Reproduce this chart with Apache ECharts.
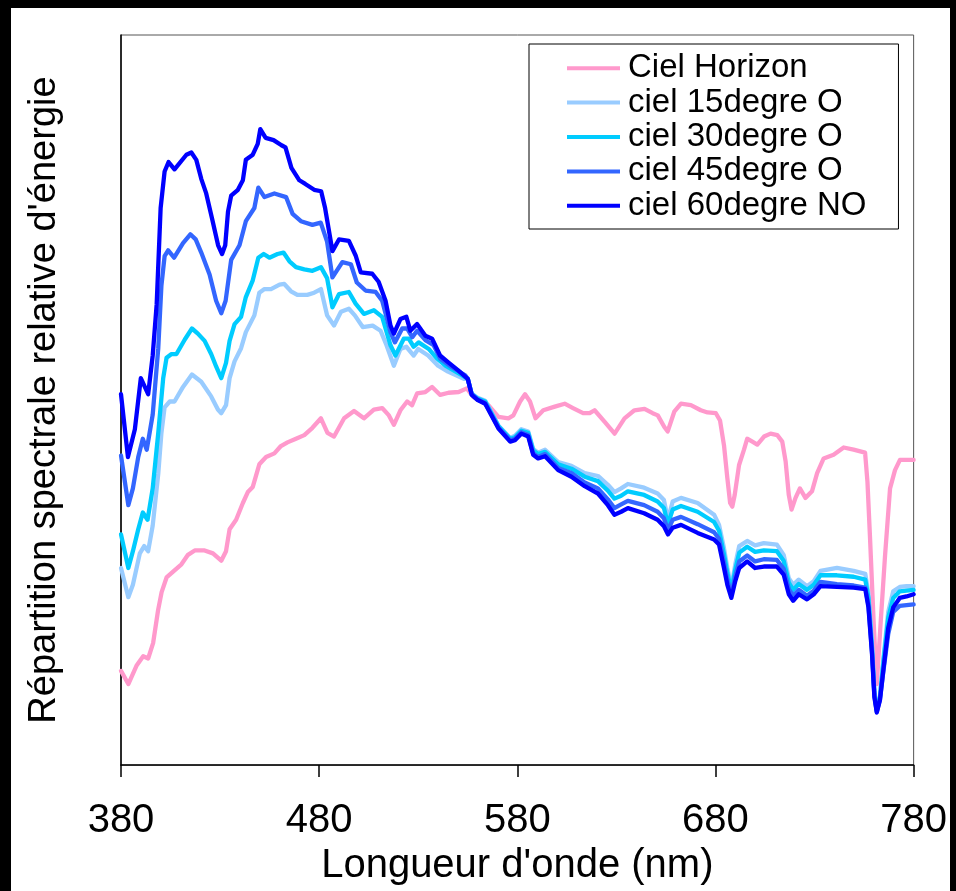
<!DOCTYPE html>
<html>
<head>
<meta charset="utf-8">
<script src="https://cdn.jsdelivr.net/npm/echarts@6/dist/echarts.min.js"></script>
<style>
  html, body { margin: 0; padding: 0; background: #000; width: 956px; height: 891px; overflow: hidden; }
  #chart { position: absolute; left: 11px; top: 8px; width: 939px; height: 883px; background: #fff; }
</style>
</head>
<body>
<div id="chart"></div>
<script>
// Wavelength axis (nm)
const xTicks = [380, 480, 580, 680, 780];

// Relative spectral energy distribution, [wavelength nm, relative value]
const cielHorizon = [
  [380,12.9],[383.7,11.1],[387.8,13.6],[391.2,14.9],[393.7,14.6],[396.2,16.7],[398.7,21.2],[400.5,23.7],
  [403,25.7],[406.3,26.5],[410.5,27.5],[413.8,28.8],[417.2,29.4],[422.2,29.4],[426.4,29.0],[430.6,28.0],
  [433,29.3],[434.8,32.3],[438.1,33.6],[441.5,35.9],[444,37.4],[446.5,38.1],[449.8,41.2],[453.2,42.2],
  [457.4,42.7],[460.7,43.7],[464,44.2],[468.3,44.7],[472.5,45.2],[476.6,46.2],[480.9,47.5],[484.2,45.5],
  [487.5,45.0],[492.6,47.5],[497.6,48.5],[502.6,47.5],[507.6,48.7],[511.8,48.9],[515.2,47.9],[517.7,46.6],
  [521,48.6],[524.4,49.8],[526.9,49.3],[529.4,50.9],[533.6,51.1],[537,51.8],[541.1,50.7],[545.3,51.0],
  [550.4,51.1],[554.5,51.6],[557.9,50.4],[562,49.8],[565.4,49.3],[570.5,47.7],[575.5,47.5],[578,47.9],
  [581.4,49.8],[583.9,50.8],[586.4,49.8],[589.2,47.5],[593.1,48.6],[598.9,49.1],[603.9,49.5],[608.1,48.9],
  [613.2,48.2],[616.5,48.2],[619,48.6],[624.1,47.0],[629.1,45.4],[634.1,47.5],[639.1,48.6],[644.2,48.8],
  [648.3,48.2],[650.9,47.9],[654.2,46.3],[655.9,45.7],[659.2,48.4],[662.6,49.5],[667.6,49.3],[672.6,48.6],
  [676,48.3],[680.2,48.2],[682.3,47.2],[684.3,43.8],[686,39.3],[687.4,35.9],[688.5,35.4],[689.7,37.0],
  [691.9,41.1],[694.4,43.2],[696,44.7],[698.6,44.3],[701.1,43.9],[704.5,45.0],[707.8,45.4],[711.2,45.2],
  [713.7,44.3],[715.4,41.6],[717,37.0],[718.4,35.0],[720.4,36.6],[722.6,37.9],[725.4,36.6],[728.7,37.5],
  [731.3,40.0],[734.6,42.0],[739.6,42.5],[744.7,43.5],[749.7,43.2],[755.5,42.8],[756.7,38.8],[758,31.1],
  [759.8,19.7],[761.4,11.1],[763.4,19.7],[765.6,28.8],[768.1,37.9],[770.6,40.4],[773.1,41.8],[780,41.8]
];

const ciel15 = [
  [380,27.0],[383.7,23.0],[386,24.7],[389.5,29.0],[391.7,30.0],[393.7,29.3],[396,32.8],[398.8,39.9],
  [400.4,45.5],[402,49.0],[404.6,49.8],[407,49.8],[411.3,51.8],[415.8,53.5],[420.5,52.5],[425.5,50.5],
  [428.9,48.7],[430.6,48.2],[433,49.3],[434.8,53.0],[437.3,55.3],[440.6,57.1],[443,59.3],[447.3,61.6],
  [449.8,64.7],[452.4,65.2],[455.7,65.2],[460,65.8],[462.4,65.9],[465.8,64.9],[469,64.4],[474,64.4],
  [477.5,64.7],[480.9,65.2],[484,61.6],[487.5,60.2],[491,62.1],[495,62.5],[498,61.6],[502,60.0],
  [507,60.2],[511,59.5],[514,57.5],[517.7,54.7],[521,57.0],[524,57.3],[527.7,56.1],[530,57.0],
  [535,56.1],[540,54.7],[545,53.9],[553,52.9],[555,52.9],[557,50.9],[560,50.3],[563.8,49.9],
  [570.5,46.5],[576.4,44.8],[578.8,45.1],[582,46.0],[585.5,45.7],[588,43.3],[590.5,42.8],[594,43.2],
  [600.6,41.5],[607.3,41.0],[614,40.0],[620.7,39.6],[625.7,38.4],[629,37.4],[632.4,37.9],[635.8,38.5],
  [644,38.0],[650.8,37.2],[654,36.3],[656,33.6],[658.4,36.1],[662.6,36.6],[671,35.9],[679.3,34.3],
  [681.8,32.9],[684.3,29.7],[686,27.0],[688,24.3],[690,27.5],[692,30.0],[696,30.7],[700,30.1],
  [704.4,30.4],[711,30.2],[714.4,28.8],[717,25.6],[719.2,24.7],[722,25.4],[726.2,24.5],[729.6,25.2],
  [733,26.6],[741.3,27.0],[749.7,26.6],[755.6,26.2],[757.2,23.5],[759,16.5],[760.2,10.0],[761.4,7.6],
  [763,9.5],[764.7,14.5],[767.2,21.0],[769.7,23.8],[773,24.4],[776.4,24.5],[780,24.5]
];

const ciel30 = [
  [380,31.6],[383.7,27.0],[386,29.3],[388.7,32.3],[391,34.6],[393.4,33.6],[396,37.9],[398.8,45.5],
  [401.3,53.0],[403,55.8],[405.5,56.3],[408,56.3],[412.2,58.3],[415.8,59.8],[418.8,59.1],[422.2,58.1],
  [425.5,56.3],[428,54.6],[430.6,53.0],[433,55.1],[434.8,58.1],[437.3,60.4],[440.6,61.4],[443,64.1],
  [446.5,66.4],[449.3,69.5],[452,70.0],[454.9,69.5],[459,70.0],[462,70.2],[465,69.0],[468.3,68.2],
  [472.5,67.9],[476.6,67.7],[480.9,68.2],[484,66.7],[486.7,62.7],[490,64.5],[495,64.8],[498.4,63.2],
  [502.6,61.8],[507.6,62.3],[511.8,61.4],[516,57.5],[518.5,56.1],[522.7,58.4],[525.2,58.4],[527.7,57.3],
  [530.2,57.9],[535.3,57.0],[539.4,55.7],[543.7,54.7],[552,53.4],[555,52.9],[557,50.8],[560,50.2],
  [563.8,49.8],[570.5,46.4],[576.4,44.7],[578.8,44.9],[582,45.8],[585.5,45.5],[588,43.1],[590.5,42.6],
  [594,42.9],[600.6,41.2],[607.3,40.6],[614,39.5],[620.7,38.9],[625.7,37.6],[629,36.5],[632.4,36.9],
  [635.8,37.5],[644,37.0],[650.8,36.1],[654,35.2],[656,33.0],[658.4,35.0],[662.6,35.5],[671,34.7],
  [679.3,33.3],[681.8,32.1],[684.3,28.9],[686,26.3],[688,23.9],[690,26.8],[692,29.1],[696,29.9],
  [700,29.2],[704.4,29.4],[711,29.3],[714.4,28.0],[717,25.0],[719.2,24.0],[722,24.8],[726.2,24.0],
  [729.6,24.7],[733,26.0],[741.3,26.0],[749.7,25.8],[755.6,25.4],[757.2,22.9],[759,16.1],[760.2,9.8],
  [761.4,7.5],[763,9.3],[764.7,14.0],[767.2,20.2],[769.7,22.9],[773,23.8],[776.4,23.9],[780,24.0]
];

const ciel45 = [
  [380,42.4],[383.7,35.6],[386,37.9],[388.7,42.2],[391,44.7],[393,43.2],[396,48.0],[398.8,57.1],
  [400.4,65.7],[402,69.7],[403.8,70.5],[406.8,69.5],[411.3,71.5],[415,72.7],[417.7,72.0],[420.5,70.2],
  [424.7,67.2],[428,63.6],[430.6,61.9],[432.8,63.6],[435.6,69.2],[439.8,71.2],[443,74.5],[447.3,76.3],
  [449.3,79.1],[452.4,77.8],[457.4,78.3],[463.3,77.8],[466.6,75.5],[470.8,74.5],[476.6,74.0],[480.8,74.3],
  [484,71.7],[486.7,66.8],[491.7,68.9],[496,68.6],[499,66.1],[503.4,65.0],[508.5,64.8],[511.8,63.6],
  [516,59.3],[518.2,57.9],[521.9,59.8],[524.4,59.8],[527,58.6],[529.4,59.5],[533.6,58.2],[537.8,57.5],
  [541,55.7],[547,54.5],[553.7,53.4],[555,52.9],[557,50.8],[560,50.1],[563.8,49.6],[570.5,46.2],
  [576.4,44.5],[578.8,44.7],[582,45.6],[585.5,45.2],[588,42.7],[590.5,42.2],[594,42.6],[600.6,40.7],
  [607.3,40.0],[614,38.7],[620.7,37.9],[625.7,36.4],[629,35.2],[632.4,35.7],[635.8,36.2],[644,35.6],
  [650.8,34.7],[654,33.8],[656,32.2],[658.4,33.6],[662.6,34.0],[671,33.0],[679.3,31.9],[681.8,31.0],
  [684.3,27.8],[686,25.4],[688,23.3],[690,25.9],[692,27.9],[696,28.7],[700,27.9],[704.4,28.2],
  [711,28.1],[714.4,26.9],[717,24.1],[719.2,23.2],[722,24.0],[726.2,23.2],[729.6,23.9],[733,25.1],
  [741.3,24.8],[749.7,24.6],[755.6,24.3],[757.2,21.9],[759,15.5],[760.2,9.5],[761.4,7.3],[763,9.0],
  [764.7,12.8],[767.2,18.0],[769.7,21.0],[773,21.8],[776.4,21.9],[780,22.0]
];

const ciel60 = [
  [380,50.8],[383.5,42.2],[387,46.0],[390,53.0],[393.7,50.8],[396,56.1],[398,63.1],[400,76.3],
  [402,81.3],[404,82.6],[407,81.6],[413,83.6],[415.5,83.9],[418,82.9],[420.5,80.3],[423,78.3],
  [426,74.8],[429,71.2],[431,70.0],[432.6,71.2],[434,75.8],[435.6,78.0],[439,78.8],[441.5,80.1],
  [443,82.9],[446.5,83.6],[449,85.1],[450.3,87.1],[453,85.9],[457,85.6],[461,84.9],[463,84.6],
  [466,81.8],[470,80.1],[473,79.6],[477.5,78.8],[481,78.6],[483,76.3],[486.7,70.4],[490,72.0],
  [495,71.8],[498.4,69.8],[501,67.5],[506.8,67.3],[510,66.2],[513.5,63.6],[516,60.2],[517.7,59.1],
  [521,61.1],[524,61.4],[526,59.5],[529.4,60.4],[533.6,58.8],[537,58.4],[541,56.1],[545,55.2],
  [550,54.1],[555,52.9],[557,50.7],[560,50.0],[563.8,49.5],[570.5,46.1],[576.4,44.3],[578.8,44.5],
  [582,45.4],[585.5,45.0],[588,42.5],[590.5,42.0],[594,42.3],[600.6,40.4],[607.3,39.5],[614,38.2],
  [620.7,37.2],[625.7,35.6],[629,34.3],[632.4,34.7],[635.8,35.2],[644,34.5],[650.8,33.6],[654,32.7],
  [656,31.6],[658.4,32.5],[662.6,32.9],[671,31.8],[679.3,30.9],[681.8,30.2],[684.3,27.0],[686,24.7],
  [688,22.9],[690,25.2],[692,27.0],[696,27.9],[700,27.0],[704.4,27.2],[711,27.2],[714.4,26.1],
  [717,23.4],[719.2,22.5],[722,23.4],[726.2,22.7],[729.6,23.4],[733,24.5],[741.3,24.4],[749.7,24.3],
  [755.6,24.1],[757.2,21.6],[759,15.2],[760.2,9.3],[761.4,7.2],[763,8.9],[764.7,13.0],[767.2,18.8],
  [769.7,21.6],[773,22.9],[776.4,23.1],[780,23.4]
];

const seriesNames = ['Ciel Horizon', 'ciel 15degre O', 'ciel 30degre O', 'ciel 45degre O', 'ciel 60degre NO'];
const seriesColors = ['#FF99CC', '#99CCFF', '#00CCFF', '#3366FF', '#0000FF'];
const seriesData = [cielHorizon, ciel15, ciel30, ciel45, ciel60];

const FONT = "'Liberation Sans', Arial, Helvetica, sans-serif";

const chart = echarts.init(document.getElementById('chart'), null, { renderer: 'canvas' });

chart.setOption({
  animation: false,
  backgroundColor: '#fff',
  textStyle: { fontFamily: FONT },
  grid: {
    left: 110, right: 28, top: 27, bottom: 123,
    show: true, borderColor: '#555', borderWidth: 1, backgroundColor: 'transparent'
  },
  legend: {
    orient: 'vertical',
    left: 518, top: 36,
    padding: [7, 32, 6, 38],
    itemGap: 0,
    itemWidth: 53, itemHeight: 4,
    icon: 'rect',
    borderColor: '#000', borderWidth: 1,
    backgroundColor: '#fff',
    selectedMode: false,
    data: seriesNames,
    textStyle: { fontFamily: FONT, fontSize: 33, lineHeight: 34.4, color: '#000', padding: [0, 0, 0, 3] }
  },
  xAxis: {
    type: 'value',
    min: xTicks[0], max: xTicks[xTicks.length - 1], interval: 100,
    name: "Longueur d'onde (nm)",
    nameLocation: 'middle', nameGap: 69,
    nameTextStyle: { fontFamily: FONT, fontSize: 40, color: '#000' },
    axisLine: { show: true, onZero: false, lineStyle: { color: '#000', width: 1.5 } },
    axisTick: { show: true, inside: false, length: 12, lineStyle: { color: '#000', width: 1.5 } },
    axisLabel: { fontFamily: FONT, fontSize: 40, color: '#000', margin: 36 },
    splitLine: { show: false }
  },
  yAxis: {
    type: 'value',
    min: 0, max: 100,
    name: "Répartition spectrale relative d'énergie",
    nameLocation: 'middle', nameGap: 57,
    nameTextStyle: { fontFamily: FONT, fontSize: 38, color: '#000' },
    axisLine: { show: true, lineStyle: { color: '#000', width: 1.5 } },
    axisTick: { show: false },
    axisLabel: { show: false },
    splitLine: { show: false }
  },
  series: seriesNames.map((name, i) => ({
    name: name,
    type: 'line',
    data: seriesData[i],
    showSymbol: false,
    symbol: 'none',
    color: seriesColors[i],
    lineStyle: { color: seriesColors[i], width: 4.3, join: 'round', cap: 'round' },
    emphasis: { disabled: true }
  }))
});
</script>
</body>
</html>
